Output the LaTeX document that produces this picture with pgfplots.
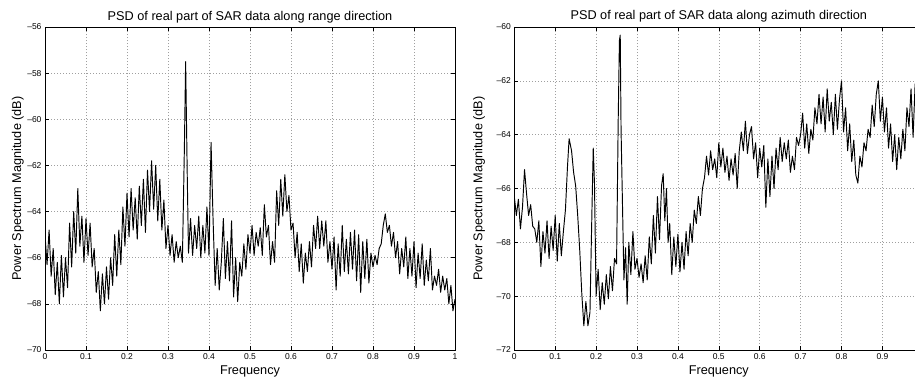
\documentclass[border=0pt]{standalone}
\usepackage{pgfplots}
\pgfplotsset{compat=1.18}
\usepackage{pgfplotstable}
\usepackage{fontspec}
\setmainfont{Liberation Sans}

\pgfplotstableread{
x y
0.000 -65.0
0.005 -66.3
0.010 -64.8
0.015 -66.8
0.020 -65.6
0.025 -67.6
0.030 -66.2
0.035 -68.0
0.040 -65.9
0.045 -67.7
0.050 -66.0
0.055 -67.3
0.060 -64.5
0.065 -66.4
0.070 -64.0
0.075 -65.8
0.080 -63.0
0.085 -65.5
0.090 -64.2
0.095 -66.2
0.100 -64.3
0.105 -65.9
0.110 -64.5
0.115 -66.4
0.120 -65.6
0.125 -67.5
0.130 -66.6
0.135 -68.3
0.140 -66.7
0.145 -68.0
0.150 -66.4
0.155 -67.8
0.160 -66.0
0.165 -67.2
0.170 -65.0
0.175 -66.8
0.180 -64.8
0.185 -66.3
0.190 -63.8
0.195 -65.5
0.200 -63.2
0.205 -65.1
0.210 -63.0
0.215 -64.8
0.220 -63.4
0.225 -65.2
0.230 -62.9
0.235 -64.6
0.240 -62.6
0.245 -64.9
0.250 -62.2
0.255 -64.0
0.260 -61.8
0.265 -63.9
0.270 -62.0
0.275 -64.4
0.280 -62.6
0.285 -64.8
0.290 -63.5
0.295 -65.6
0.300 -64.6
0.305 -65.9
0.310 -65.0
0.315 -66.2
0.320 -65.3
0.325 -66.0
0.330 -65.5
0.335 -66.2
0.340 -61.2
0.343 -57.5
0.347 -62.5
0.350 -65.8
0.355 -64.3
0.360 -65.9
0.365 -64.6
0.370 -65.6
0.375 -64.2
0.380 -66.0
0.385 -64.6
0.390 -65.8
0.395 -63.8
0.400 -65.9
0.405 -61.0
0.410 -64.4
0.415 -67.2
0.420 -65.6
0.425 -67.4
0.430 -66.2
0.435 -64.3
0.440 -66.9
0.445 -65.3
0.450 -67.0
0.455 -64.4
0.460 -67.7
0.465 -66.0
0.470 -67.9
0.475 -66.2
0.480 -66.8
0.485 -65.4
0.490 -66.5
0.495 -65.0
0.500 -65.8
0.505 -64.6
0.510 -65.9
0.515 -64.9
0.520 -65.5
0.525 -64.7
0.530 -65.9
0.535 -63.7
0.540 -65.1
0.545 -64.6
0.550 -66.3
0.555 -65.3
0.560 -66.2
0.565 -63.1
0.570 -64.6
0.575 -62.6
0.580 -64.2
0.585 -62.4
0.590 -64.0
0.595 -63.3
0.600 -64.8
0.605 -64.5
0.610 -66.0
0.615 -64.9
0.620 -66.6
0.625 -65.4
0.630 -67.1
0.635 -65.8
0.640 -66.6
0.645 -65.3
0.650 -66.4
0.655 -64.6
0.660 -65.6
0.665 -64.2
0.670 -65.6
0.675 -64.4
0.680 -65.5
0.685 -64.4
0.690 -66.2
0.695 -65.3
0.700 -66.5
0.705 -65.1
0.710 -67.4
0.715 -65.4
0.720 -66.8
0.725 -64.6
0.730 -66.6
0.735 -65.2
0.740 -66.7
0.745 -64.9
0.750 -66.5
0.755 -64.8
0.760 -67.0
0.765 -65.0
0.770 -67.5
0.775 -65.3
0.780 -66.9
0.785 -65.2
0.790 -67.1
0.795 -65.8
0.800 -66.4
0.805 -65.9
0.810 -66.3
0.815 -65.6
0.820 -65.4
0.825 -64.6
0.830 -64.1
0.835 -64.9
0.840 -64.6
0.845 -65.5
0.850 -64.9
0.855 -66.0
0.860 -65.3
0.865 -66.7
0.870 -65.6
0.875 -66.4
0.880 -65.1
0.885 -66.9
0.890 -65.6
0.895 -66.8
0.900 -65.3
0.905 -67.3
0.910 -65.8
0.915 -66.9
0.920 -65.4
0.925 -67.2
0.930 -66.1
0.935 -67.0
0.940 -65.6
0.945 -67.4
0.950 -66.8
0.955 -67.2
0.960 -66.5
0.965 -67.5
0.970 -66.8
0.975 -67.4
0.980 -66.9
0.985 -68.0
0.990 -67.2
0.995 -68.3
1.000 -67.8
}\rangetable

\pgfplotstableread{
x y
0.000 -66.3
0.005 -67.0
0.010 -66.4
0.015 -67.5
0.020 -66.7
0.025 -65.3
0.030 -66.2
0.035 -67.0
0.040 -66.6
0.045 -67.4
0.050 -67.5
0.055 -68.0
0.060 -67.2
0.065 -68.9
0.070 -67.6
0.075 -68.4
0.080 -67.2
0.085 -68.6
0.090 -67.4
0.095 -68.3
0.100 -67.0
0.105 -68.7
0.110 -67.3
0.115 -68.5
0.120 -67.6
0.125 -66.8
0.130 -65.2
0.134 -64.15
0.140 -64.6
0.145 -65.4
0.150 -65.9
0.155 -67.0
0.160 -68.3
0.165 -69.9
0.170 -71.1
0.175 -70.2
0.180 -71.1
0.185 -70.6
0.190 -66.7
0.193 -64.5
0.196 -65.8
0.200 -70.0
0.205 -69.0
0.210 -70.5
0.215 -69.5
0.220 -70.3
0.225 -69.2
0.230 -70.1
0.235 -68.9
0.240 -69.8
0.245 -68.6
0.250 -68.8
0.254 -63.5
0.257 -60.5
0.259 -60.3
0.261 -63.8
0.264 -66.2
0.268 -69.4
0.272 -68.2
0.276 -70.3
0.280 -68.0
0.285 -69.2
0.290 -67.6
0.295 -69.0
0.300 -68.6
0.305 -69.3
0.310 -68.8
0.315 -69.5
0.320 -68.5
0.325 -69.4
0.330 -67.8
0.335 -68.8
0.340 -67.0
0.345 -68.4
0.350 -66.3
0.355 -67.9
0.360 -65.9
0.364 -65.45
0.368 -67.2
0.372 -66.0
0.376 -68.0
0.380 -67.3
0.385 -69.2
0.390 -67.8
0.395 -68.9
0.400 -67.7
0.405 -69.1
0.410 -68.0
0.415 -69.0
0.420 -67.6
0.425 -68.5
0.430 -67.3
0.435 -68.0
0.440 -66.8
0.445 -67.3
0.450 -66.3
0.455 -67.0
0.460 -66.0
0.465 -65.6
0.470 -64.8
0.475 -65.5
0.480 -64.6
0.485 -65.3
0.490 -64.9
0.495 -65.6
0.500 -64.3
0.505 -65.2
0.510 -64.5
0.515 -65.4
0.520 -64.8
0.525 -65.7
0.530 -64.9
0.535 -65.5
0.540 -64.7
0.545 -66.0
0.550 -64.6
0.555 -63.9
0.560 -64.6
0.565 -63.5
0.570 -64.7
0.575 -64.0
0.580 -63.7
0.585 -64.9
0.590 -64.3
0.595 -65.6
0.600 -64.5
0.605 -65.2
0.610 -64.4
0.615 -66.7
0.620 -64.9
0.625 -66.3
0.630 -64.8
0.635 -66.0
0.640 -64.5
0.645 -65.3
0.650 -64.1
0.655 -65.0
0.660 -64.3
0.665 -64.9
0.670 -64.2
0.675 -65.4
0.680 -64.8
0.685 -65.3
0.690 -64.1
0.695 -64.4
0.700 -64.0
0.705 -63.2
0.710 -64.5
0.715 -63.6
0.720 -64.7
0.725 -63.8
0.730 -64.2
0.735 -63.0
0.740 -63.6
0.745 -62.5
0.750 -63.6
0.755 -62.6
0.760 -63.9
0.765 -62.3
0.770 -63.5
0.775 -62.8
0.780 -64.0
0.785 -62.5
0.790 -63.8
0.795 -62.7
0.800 -62.0
0.805 -63.9
0.810 -63.0
0.815 -64.6
0.820 -63.6
0.825 -65.0
0.830 -64.2
0.835 -65.5
0.840 -65.8
0.845 -64.8
0.850 -65.2
0.855 -64.3
0.860 -64.6
0.865 -63.8
0.870 -64.1
0.875 -62.9
0.880 -63.7
0.885 -62.5
0.890 -62.0
0.895 -63.5
0.900 -62.6
0.905 -63.9
0.910 -63.0
0.915 -64.5
0.920 -63.6
0.925 -65.0
0.930 -64.0
0.935 -65.3
0.940 -64.1
0.945 -64.9
0.950 -63.8
0.955 -64.6
0.960 -63.0
0.965 -63.7
0.970 -62.3
0.975 -64.1
0.980 -62.1
}\azimuthtable

\begin{document}
\begin{tikzpicture}
\useasboundingbox (-45pt,-28pt) rectangle (870pt,350pt);
\clip (-45pt,-28pt) rectangle (870pt,350pt);
\pgfplotsset{
  psd/.style={
    scale only axis, width=410pt, height=323pt,
    xmin=0, xmax=1,
    xtick={0,0.1,0.2,0.3,0.4,0.5,0.6,0.7,0.8,0.9,1},
    grid=major,
    grid style={gray!75, line width=0.5pt, dash pattern=on 0.6pt off 2.4pt},
    tick align=inside, major tick length=4pt,
    tick style={black, line width=0.5pt},
    axis line style={black, line width=0.9pt},
    ticklabel style={font=\fontsize{8.5}{10}\selectfont},
    label style={font=\fontsize{12.7}{15}\selectfont},
    title style={font=\fontsize{12.7}{15}\selectfont, at={(axis description cs:0.5,1)}, anchor=base, yshift=1pt},
    xlabel style={at={(axis description cs:0.5,0)}, anchor=base, yshift=-24pt},
    xlabel={Frequency},
    ylabel={Power Spectrum Magnitude (dB)},
  }
}
\begin{axis}[psd,
  at={(0pt,0pt)}, anchor=south west,
  xticklabels={0,0.1,0.2,0.3,0.4,0.5,0.6,0.7,0.8,0.9,1},
  ymin=-70, ymax=-56,
  ytick={-70,-68,-66,-64,-62,-60,-58,-56},
  yticklabels={–70,–68,–66,–64,–62,–60,–58,–56},
  ylabel style={at={(axis description cs:-0.0585,0.5)}, anchor=base},
  title={PSD of real part of SAR data along range direction}]
\addplot[black, line width=0.95pt, line join=round] table[x=x,y=y] {\rangetable};
\end{axis}
\begin{axis}[psd,
  at={(469.3pt,0pt)}, anchor=south west,
  width=409pt,
  xticklabels={0,0.1,0.2,0.3,0.4,0.5,0.6,0.7,0.8,0.9,{}},
  ymin=-72, ymax=-60,
  ytick={-72,-70,-68,-66,-64,-62,-60},
  yticklabels={–72,–70,–68,–66,–64,–62,–60},
  ylabel style={at={(axis description cs:-0.078,0.5)}, anchor=base},
  title={PSD of real part of SAR data along azimuth direction}]
\addplot[black, line width=0.95pt, line join=round] table[x=x,y=y] {\azimuthtable};
\end{axis}
\end{tikzpicture}
\end{document}
